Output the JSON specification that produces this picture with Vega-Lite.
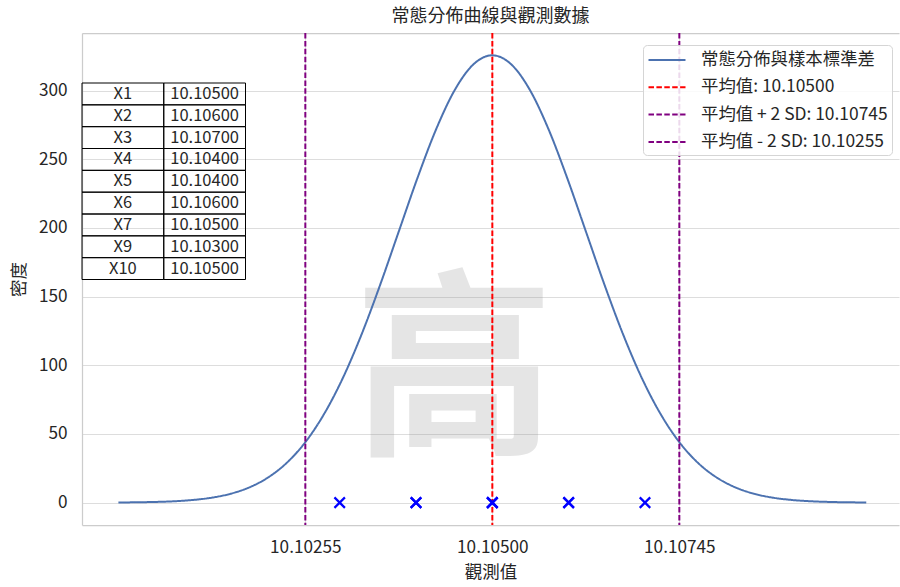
{
  "$schema": "https://vega.github.io/schema/vega-lite/v6.json",
  "autosize": {"type": "none"},
  "width": 817,
  "height": 492,
  "padding": {"left": 82, "top": 33, "right": 1, "bottom": 62},
  "config": {
    "font": "Noto Sans CJK TC",
    "view": {"stroke": null},
    "axis": {
      "labelColor": "#262626", "titleColor": "#262626",
      "labelFont": "Noto Sans CJK TC", "titleFont": "Noto Sans CJK TC",
      "labelFontSize": 17.2, "titleFontSize": 17.5, "titleFontWeight": "normal",
      "domainColor": "#cccccc", "domainWidth": 1.25,
      "gridColor": "#dddddd", "gridWidth": 1, "ticks": false
    },
    "legend": {
      "orient": "none", "legendX": 561, "legendY": 12,
      "labelFontSize": 17.4, "labelColor": "#262626", "labelFont": "Noto Sans CJK TC", "labelLimit": 0,
      "symbolType": "M-1.85,0H1.85", "symbolSize": 400, "symbolStrokeWidth": 2, "symbolOffset": 9,
      "labelOffset": 23, "padding": 4, "rowPadding": 7.3,
      "strokeColor": "#d5d5d5", "cornerRadius": 4, "fillColor": "rgba(255,255,255,0.85)"
    }
  },
  "title": {"text": "常態分佈曲線與觀測數據", "fontSize": 18, "fontWeight": "normal", "color": "#262626", "offset": 6, "font": "Noto Sans CJK TC"},
  "datasets": {
    "curve": [
      {"x": 10.100101, "density": 0.11}, {"x": 10.100346, "density": 0.24}, {"x": 10.100591, "density": 0.50},
      {"x": 10.100836, "density": 1.01}, {"x": 10.101081, "density": 1.95}, {"x": 10.101326, "density": 3.62},
      {"x": 10.101571, "density": 6.46}, {"x": 10.101816, "density": 11.09}, {"x": 10.102061, "density": 18.29},
      {"x": 10.102306, "density": 28.97}, {"x": 10.102551, "density": 44.09}, {"x": 10.102795, "density": 64.47},
      {"x": 10.103040, "density": 90.57}, {"x": 10.103285, "density": 122.26}, {"x": 10.103530, "density": 158.56},
      {"x": 10.103775, "density": 197.58}, {"x": 10.104020, "density": 236.54}, {"x": 10.104265, "density": 272.09},
      {"x": 10.104510, "density": 300.71}, {"x": 10.104755, "density": 319.30}, {"x": 10.105000, "density": 325.75},
      {"x": 10.105245, "density": 319.30}, {"x": 10.105490, "density": 300.71}, {"x": 10.105735, "density": 272.09},
      {"x": 10.105980, "density": 236.54}, {"x": 10.106225, "density": 197.58}, {"x": 10.106470, "density": 158.56},
      {"x": 10.106715, "density": 122.26}, {"x": 10.106960, "density": 90.57}, {"x": 10.107205, "density": 64.47},
      {"x": 10.107449, "density": 44.09}, {"x": 10.107694, "density": 28.97}, {"x": 10.107939, "density": 18.29},
      {"x": 10.108184, "density": 11.09}, {"x": 10.108429, "density": 6.46}, {"x": 10.108674, "density": 3.62},
      {"x": 10.108919, "density": 1.95}, {"x": 10.109164, "density": 1.01}, {"x": 10.109409, "density": 0.50},
      {"x": 10.109654, "density": 0.24}, {"x": 10.109899, "density": 0.11}
    ],
    "obs": [
      {"name": "X1", "value": 10.105},
      {"name": "X2", "value": 10.106},
      {"name": "X3", "value": 10.107},
      {"name": "X4", "value": 10.104},
      {"name": "X5", "value": 10.104},
      {"name": "X6", "value": 10.106},
      {"name": "X7", "value": 10.105},
      {"name": "X9", "value": 10.103},
      {"name": "X10", "value": 10.105}
    ],
    "lines": [
      {"series": "平均值: 10.10500", "x": 10.105},
      {"series": "平均值 + 2 SD: 10.10745", "x": 10.10745},
      {"series": "平均值 - 2 SD: 10.10255", "x": 10.10255}
    ]
  },
  "layer": [
    {
      "resolve": {"axis": {"x": "independent"}},
      "layer": [
        {
          "data": {"values": [{}]},
          "mark": {"type": "text", "text": "高", "fontSize": 200, "fontWeight": "bold", "color": "#808080", "opacity": 0.2, "align": "center", "baseline": "middle", "font": "Noto Sans CJK TC"},
          "encoding": {
            "x": {"datum": 10.1045, "type": "quantitative", "axis": null, "scale": {"domain": [10.099624, 10.110328], "nice": false, "zero": false}},
            "y": {"datum": 90, "type": "quantitative", "scale": {"domain": [-16.3, 342], "nice": false, "zero": false}}
          }
        },
        {
          "data": {"name": "curve"},
          "mark": {"type": "line", "strokeWidth": 2, "interpolate": "monotone"},
          "encoding": {
            "x": {"field": "x", "type": "quantitative", "title": "觀測值",
              "scale": {"domain": [10.099624, 10.110328], "nice": false, "zero": false},
              "axis": {"values": [10.10255, 10.105, 10.10745], "format": ".5f", "labelPadding": 13, "titlePadding": 8, "orient": "bottom", "grid": true, "domain": true}},
            "y": {"field": "density", "type": "quantitative", "title": "密度",
              "scale": {"domain": [-16.3, 342], "nice": false, "zero": false},
              "axis": {"values": [0, 50, 100, 150, 200, 250, 300], "labelPadding": 15, "titlePadding": 10, "grid": true}},
            "color": {"datum": "常態分佈與樣本標準差", "type": "nominal", "title": null,
              "scale": {"domain": ["常態分佈與樣本標準差", "平均值: 10.10500", "平均值 + 2 SD: 10.10745", "平均值 - 2 SD: 10.10255"], "range": ["#4c72b0", "#ff0000", "#800080", "#800080"]}},
            "strokeDash": {"datum": "常態分佈與樣本標準差", "type": "nominal", "title": null,
              "scale": {"domain": ["常態分佈與樣本標準差", "平均值: 10.10500", "平均值 + 2 SD: 10.10745", "平均值 - 2 SD: 10.10255"], "range": [[1, 0], [5.5, 2.4], [5.5, 2.4], [5.5, 2.4]]}}
          }
        },
        {
          "data": {"name": "lines"},
          "mark": {"type": "rule", "strokeWidth": 2},
          "encoding": {
            "x": {"field": "x", "type": "quantitative",
              "scale": {"domain": [10.099624, 10.110328], "nice": false, "zero": false},
              "axis": {"orient": "top", "labels": false, "grid": false, "title": null, "domain": true}},
            "color": {"field": "series", "type": "nominal", "title": null},
            "strokeDash": {"field": "series", "type": "nominal", "title": null}
          }
        },
        {
          "data": {"name": "obs"},
          "mark": {"type": "point", "shape": "M-1,-1L1,1M1,-1L-1,1", "size": 110, "strokeWidth": 2.2, "color": "#0000ff", "filled": false, "opacity": 1},
          "encoding": {
            "x": {"field": "value", "type": "quantitative", "axis": null, "scale": {"domain": [10.099624, 10.110328], "nice": false, "zero": false}},
            "y": {"datum": 0, "type": "quantitative"}
          }
        }
      ]
    },
    {
      "data": {"name": "obs"},
      "encoding": {
        "y": {"field": "name", "type": "nominal", "axis": null,
          "scale": {"type": "band", "domain": ["X1", "X2", "X3", "X4", "X5", "X6", "X7", "X9", "X10"], "range": [50, 246.5], "paddingInner": 0, "paddingOuter": 0}}
      },
      "layer": [
        {
          "mark": {"type": "rect", "stroke": "#000000", "strokeWidth": 1, "fillOpacity": 0, "fill": "#ffffff"},
          "encoding": {"x": {"datum": "c1", "type": "nominal", "axis": null, "scale": {"type": "band", "domain": ["c1", "c2"], "range": [0, 163.5], "paddingInner": 0, "paddingOuter": 0}}}
        },
        {
          "mark": {"type": "rect", "stroke": "#000000", "strokeWidth": 1, "fillOpacity": 0, "fill": "#ffffff"},
          "encoding": {"x": {"datum": "c2", "type": "nominal", "axis": null}}
        },
        {
          "mark": {"type": "text", "fontSize": 16.5, "color": "#262626", "align": "center", "baseline": "middle", "font": "Noto Sans CJK TC"},
          "encoding": {"x": {"datum": "c1", "type": "nominal", "axis": null}, "text": {"field": "name"}}
        },
        {
          "mark": {"type": "text", "fontSize": 16.5, "color": "#262626", "align": "center", "baseline": "middle", "font": "Noto Sans CJK TC"},
          "encoding": {"x": {"datum": "c2", "type": "nominal", "axis": null}, "text": {"field": "value", "format": ".5f"}}
        }
      ]
    }
  ],
  "resolve": {"scale": {"x": "independent", "y": "independent"}}
}
